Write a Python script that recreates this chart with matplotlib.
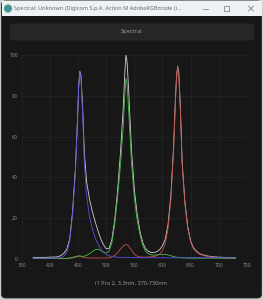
import matplotlib
matplotlib.use("Agg")
import matplotlib.pyplot as plt
from matplotlib.patches import FancyBboxPatch, Rectangle, Circle

# Spectral readings (percent of peak) per channel
wavelengths = [370, 380, 390, 400, 410, 415, 420, 425, 430, 435, 440, 445, 448, 451, 453,
               455, 458, 461, 465, 470, 475, 480, 485, 490, 495, 500, 505, 510, 515, 520,
               525, 530, 533, 535, 537, 540, 545, 550, 555, 560, 565, 570, 575, 580, 585,
               590, 595, 600, 605, 610, 615, 620, 623, 625, 627, 629, 632, 635, 640, 645,
               650, 655, 660, 665, 670, 680, 690, 700, 710, 720, 730]

white = [0.8, 0.8, 0.8, 0.9, 1.0, 1.2, 1.8, 3.0, 5.0, 10, 23, 44, 63, 85, 92,
         90, 74, 52, 38, 29.5, 23.5, 18.5, 14, 10, 7.0, 5.0, 5.2, 9.5, 19, 33,
         51, 73, 91, 100, 97, 82, 53, 34, 22, 13.5, 8.0, 5.0, 3.8, 3.2, 3.2,
         3.6, 4.6, 6.5, 9.7, 17, 31, 56, 78, 89, 94.5, 92, 74, 48, 28, 16,
         9.0, 5.5, 4.0, 2.8, 2.2, 1.5, 1.1, 0.9, 0.8, 0.7, 0.7]

red = [0.3, 0.3, 0.3, 0.3, 0.3, 0.3, 0.3, 0.3, 0.3, 0.4, 0.5, 0.8, 1.2, 1.4, 1.4,
       1.2, 0.9, 0.7, 0.6, 0.5, 0.5, 0.5, 0.5, 0.5, 0.5, 0.5, 0.6, 1.0, 1.8, 3.0,
       4.8, 6.3, 6.9, 7.1, 7.0, 6.3, 4.3, 2.4, 1.4, 1.0, 0.9, 0.9, 1.0, 1.1, 1.3,
       1.6, 2.4, 4.2, 7.5, 15, 29, 54, 76, 88, 94.3, 91, 72, 47, 27, 15,
       8.5, 5.2, 3.6, 2.6, 2.0, 1.2, 0.9, 0.7, 0.5, 0.4, 0.4]

green = [0.3, 0.3, 0.3, 0.3, 0.3, 0.3, 0.3, 0.3, 0.3, 0.5, 0.8, 1.2, 1.4, 1.5, 1.5,
         1.4, 1.3, 1.4, 1.8, 2.6, 3.6, 4.5, 4.8, 4.2, 3.3, 3.0, 3.8, 8.0, 17, 30,
         45, 64, 80, 88.6, 86, 72, 47, 30, 19, 12, 6.5, 3.8, 2.6, 2.0, 1.9,
         2.0, 2.2, 2.3, 2.2, 2.0, 1.6, 1.2, 1.0, 0.9, 0.8, 0.8, 0.7, 0.6, 0.5, 0.5,
         0.4, 0.4, 0.4, 0.4, 0.4, 0.4, 0.4, 0.4, 0.4, 0.4, 0.4]

blue = [0.4, 0.4, 0.4, 0.4, 0.4, 0.5, 0.8, 1.5, 3.5, 9.0, 22, 42, 63, 85, 91.5,
        89, 71, 47, 31, 21, 15, 10.5, 7.5, 5.0, 3.3, 2.2, 1.6, 1.2, 1.0, 0.9,
        0.8, 0.8, 0.8, 0.8, 0.8, 0.7, 0.7, 0.7, 0.6, 0.6, 0.6, 0.6, 0.6, 0.6, 0.6,
        0.6, 0.6, 0.6, 0.6, 0.6, 0.6, 0.6, 0.6, 0.6, 0.6, 0.6, 0.6, 0.6, 0.6, 0.6,
        0.6, 0.6, 0.6, 0.6, 0.6, 0.6, 0.6, 0.6, 0.6, 0.6, 0.6]

x_ticks = [350, 400, 450, 500, 550, 600, 650, 700, 750]
y_ticks = [0, 20, 40, 60, 80, 100]

window_title = "Spectral: Unknown (Digicom S.p.A. Action M AdobeRGBmode (i..."
button_label = "Spectral"
caption = "i1 Pro 2, 3.3nm, 370-730nm"

# Figure geometry (pixels)
width = 263
height = 300
dpi = 100

plt.rcParams["font.family"] = ["Noto Sans", "DejaVu Sans"]

fig = plt.figure(figsize=(width / dpi, height / dpi), dpi=dpi)
fig.patch.set_facecolor("#cfcfcf")

# Window chrome drawn in pixel coordinates on a background axes
bg = fig.add_axes([0, 0, 1, 1])
bg.set_xlim(0, width)
bg.set_ylim(height, 0)
bg.axis("off")

bg.add_patch(FancyBboxPatch((1.5, 1), width - 3, height - 3, boxstyle="round,pad=0,rounding_size=4",
                            facecolor="#171717", edgecolor="#2a2a2a", linewidth=0.6))
bg.add_patch(Rectangle((1.5, 1), width - 3, 15, facecolor="#eef1f5", edgecolor="none"))
bg.add_patch(Circle((8, 8.5), 3.6, facecolor="#3c8fa8", edgecolor="#5aa86a", linewidth=0.8))
bg.text(14, 8.5, window_title, fontsize=4, color="#6a6a6a", va="center", ha="left")

# window buttons: minimize, maximize, close
bg.plot([202.5, 207.5], [8.5, 8.5], color="#707070", linewidth=0.5)
bg.add_patch(Rectangle((223.5, 6), 5, 5, facecolor="none", edgecolor="#707070", linewidth=0.5))
bg.plot([248.5, 253.5], [6, 11], color="#707070", linewidth=0.5)
bg.plot([248.5, 253.5], [11, 6], color="#707070", linewidth=0.5)

# "Spectral" button
bg.add_patch(FancyBboxPatch((10, 24), 244, 16, boxstyle="round,pad=0,rounding_size=3",
                            facecolor="#262626", edgecolor="#2e2e2e", linewidth=0.5))
bg.text(131.5, 32, button_label, fontsize=4.1, color="#9a9a9a", ha="center", va="center")

bg.text(131, 283, caption, fontsize=4, color="#9a9a9a", ha="center", va="center")

# Spectrum plot
ax_left = 22 / width
ax_right = 246.7 / width
ax_bottom = 1 - 259 / height
ax_top = 1 - 55 / height
ax = fig.add_axes([ax_left, ax_bottom, ax_right - ax_left, ax_top - ax_bottom])
ax.set_facecolor("#171717")

ax.plot(wavelengths, white, color="#cfcfcf", linewidth=0.6, zorder=3)
ax.plot(wavelengths, red, color="#c44e48", linewidth=0.6, zorder=4)
ax.plot(wavelengths, green, color="#48b848", linewidth=0.6, zorder=4)
ax.plot(wavelengths, blue, color="#5752d8", linewidth=0.6, zorder=4)

ax.set_xlim(350, 750)
ax.set_ylim(0, 100)
ax.set_xticks(x_ticks)
ax.set_yticks(y_ticks)
ax.tick_params(length=0, labelsize=3.6, labelcolor="#8c8c8c", pad=3)
ax.grid(True, color="#242424", linewidth=0.5)
ax.set_axisbelow(True)
for spine in ax.spines.values():
  spine.set_visible(False)

plt.savefig("out.png", dpi=dpi, facecolor=fig.get_facecolor())
